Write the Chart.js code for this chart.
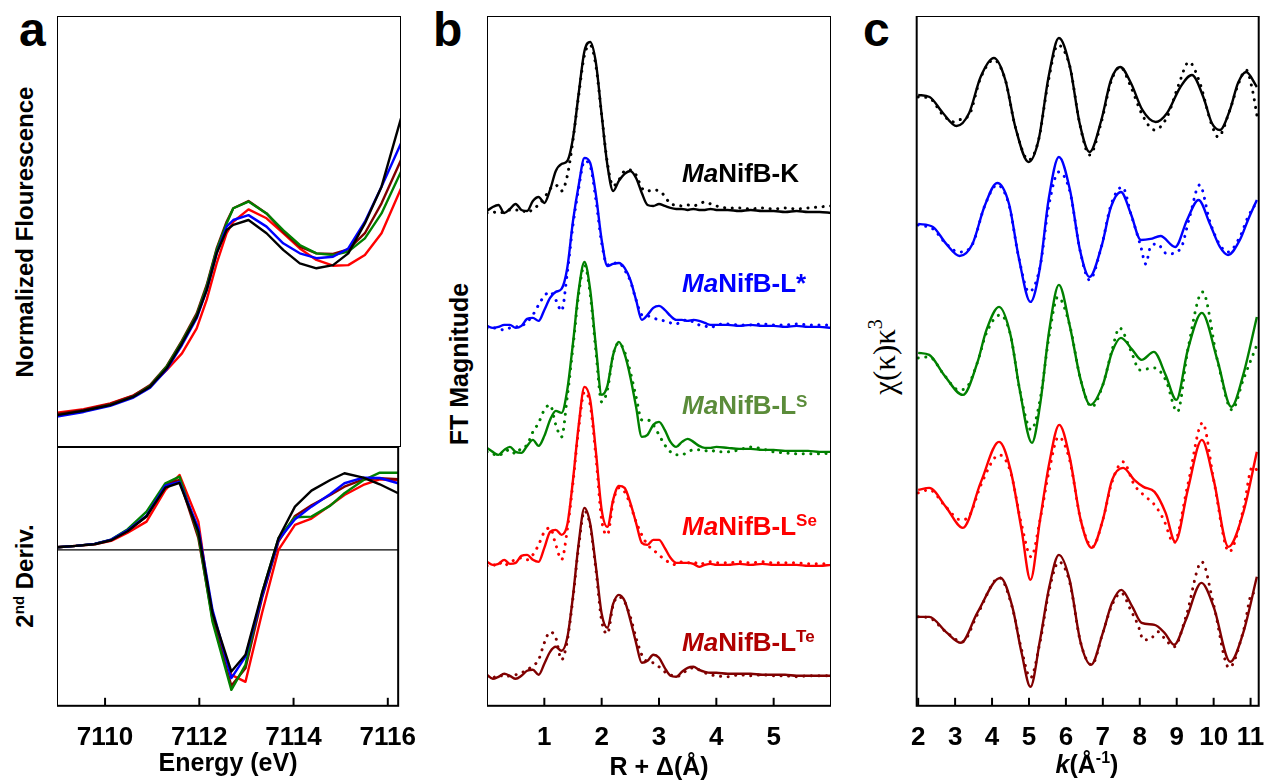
<!DOCTYPE html>
<html>
<head>
<meta charset="utf-8">
<script src="https://cdn.jsdelivr.net/npm/chart.js@4.4.1/dist/chart.umd.min.js"></script>
<style>
  body { margin: 0; width: 1270px; height: 781px; position: relative; overflow: hidden; background: #fff;
         font-family: 'Liberation Sans', Arial, sans-serif; font-weight: bold; color: #000; }
  .wrap { position: absolute; }
  .t { position: absolute; white-space: nowrap; line-height: 1; }
  .rot { transform: translate(-50%, -50%) rotate(-90deg); }
  .mid { transform: translateX(-50%); }
  .up { position: relative; }
</style>
</head>
<body>
<div class="wrap" id="wA1"><canvas id="cA1"></canvas></div>
<div class="wrap" id="wA2"><canvas id="cA2"></canvas></div>
<div class="wrap" id="wB"><canvas id="cB"></canvas></div>
<div class="wrap" id="wC"><canvas id="cC"></canvas></div>

<div class="t" style="left:19px;top:6px;font-size:48px">a</div>
<div class="t" style="left:433px;top:6px;font-size:48px">b</div>
<div class="t" style="left:863px;top:6px;font-size:48px">c</div>

<div class="t rot" style="left:25px;top:232px;font-size:24px">Normalized Flourescence</div>
<div class="t rot" style="left:25px;top:576px;font-size:24px">2<span class="up" style="font-size:15px;top:-9px">nd</span> Deriv.</div>
<div class="t mid" style="left:228px;top:750px;font-size:25px">Energy (eV)</div>

<div class="t rot" style="left:459px;top:364px;font-size:25px">FT Magnitude</div>
<div class="t mid" style="left:659px;top:754px;font-size:25px">R + Δ(Å)</div>

<div class="t rot" style="left:884px;top:357px;font-size:31px;font-family:'Liberation Serif',serif;font-weight:normal">χ(κ)κ<span class="up" style="font-size:20px;top:-13px">3</span></div>
<div class="t mid" style="left:1087px;top:752px;font-size:25px"><i>k</i>(Å<span class="up" style="font-size:16px;top:-10px">-1</span>)</div>

<div class="t" style="left:682px;top:160px;font-size:26px;color:#000"><i>Ma</i>NifB-K</div>
<div class="t" style="left:682px;top:270px;font-size:26px;color:#0000ff"><i>Ma</i>NifB-L*</div>
<div class="t" style="left:682px;top:392px;font-size:26px;color:#5b8c3a"><i>Ma</i>NifB-L<span class="up" style="font-size:17px;top:-7px">S</span></div>
<div class="t" style="left:682px;top:513px;font-size:26px;color:#ff0000"><i>Ma</i>NifB-L<span class="up" style="font-size:17px;top:-9px">Se</span></div>
<div class="t" style="left:682px;top:629px;font-size:26px;color:#b00000"><i>Ma</i>NifB-L<span class="up" style="font-size:17px;top:-9px">Te</span></div>

<script>
// ---------- panel a : XANES ----------
const energyTop = [7108.98, 7109.54, 7110.10, 7110.59, 7110.94, 7111.29, 7111.61, 7111.92, 7112.13, 7112.34, 7112.55,
                   7112.69, 7113.01, 7113.39, 7113.74, 7114.09, 7114.44, 7114.79, 7115.11, 7115.46, 7115.81, 7116.22];
const xanesK     = [0.111, 0.126, 0.146, 0.175, 0.210, 0.274, 0.361, 0.454, 0.546, 0.674, 0.755, 0.773, 0.790, 0.744, 0.686, 0.639, 0.622, 0.633, 0.674, 0.778, 0.906, 1.144];
const xanesLstar = [0.106, 0.122, 0.143, 0.172, 0.206, 0.270, 0.355, 0.448, 0.546, 0.674, 0.767, 0.790, 0.807, 0.767, 0.709, 0.674, 0.657, 0.662, 0.691, 0.784, 0.906, 1.057];
const xanesLS    = [0.109, 0.124, 0.146, 0.175, 0.212, 0.280, 0.367, 0.459, 0.558, 0.686, 0.778, 0.831, 0.854, 0.813, 0.755, 0.703, 0.674, 0.668, 0.680, 0.726, 0.813, 0.958];
const xanesLSe   = [0.119, 0.132, 0.152, 0.180, 0.212, 0.268, 0.326, 0.413, 0.512, 0.639, 0.744, 0.784, 0.827, 0.796, 0.744, 0.691, 0.651, 0.631, 0.633, 0.668, 0.744, 0.900];
const xanesLTe   = [0.115, 0.129, 0.150, 0.179, 0.216, 0.282, 0.370, 0.465, 0.564, 0.691, 0.784, 0.831, 0.856, 0.813, 0.749, 0.697, 0.674, 0.672, 0.688, 0.744, 0.848, 0.999];

const energyBottom = [7108.98, 7109.38, 7109.78, 7110.13, 7110.48, 7110.88, 7111.28, 7111.58, 7111.98, 7112.28, 7112.68,
                      7112.98, 7113.33, 7113.68, 7114.03, 7114.38, 7114.78, 7115.08, 7115.48, 7115.83, 7116.22];
const derivK     = [0.027, 0.040, 0.057, 0.097, 0.187, 0.337, 0.623, 0.670, 0.183, -0.633, -1.217, -1.050, -0.433, 0.117, 0.433, 0.593, 0.700, 0.767, 0.723, 0.657, 0.567];
const derivLstar = [0.027, 0.040, 0.060, 0.103, 0.197, 0.343, 0.643, 0.680, 0.217, -0.600, -1.283, -1.067, -0.467, 0.100, 0.307, 0.433, 0.560, 0.667, 0.723, 0.720, 0.667];
const derivLS    = [0.027, 0.040, 0.060, 0.103, 0.207, 0.383, 0.667, 0.733, 0.150, -0.717, -1.400, -1.150, -0.433, 0.117, 0.327, 0.333, 0.443, 0.567, 0.697, 0.773, 0.773];
const derivLSe   = [0.027, 0.040, 0.057, 0.090, 0.173, 0.283, 0.600, 0.750, 0.283, -0.700, -1.250, -1.320, -0.633, 0.000, 0.250, 0.313, 0.447, 0.550, 0.650, 0.707, 0.700];
const derivLTe   = [0.027, 0.040, 0.060, 0.100, 0.197, 0.333, 0.657, 0.700, 0.117, -0.683, -1.360, -1.183, -0.483, 0.083, 0.340, 0.447, 0.550, 0.633, 0.707, 0.717, 0.707];

// ---------- panel b : FT magnitude ----------
const rGrid = [0.0, 0.1, 0.2, 0.3, 0.4, 0.5, 0.6, 0.7, 0.8, 0.9, 1.0, 1.1, 1.2, 1.3, 1.4, 1.5, 1.6, 1.7, 1.8, 1.9,
               2.0, 2.1, 2.2, 2.3, 2.4, 2.5, 2.6, 2.7, 2.8, 2.9, 3.0, 3.1, 3.2, 3.3, 3.4, 3.5, 3.6, 3.7, 3.8, 3.9,
               4.0, 4.2, 4.4, 4.6, 4.8, 5.0, 5.2, 5.4, 5.6, 5.8, 6.0];
const ftK        = [0.02, 0.06, 0.08, 0.00, 0.04, 0.09, 0.03, 0.02, 0.12, 0.16, 0.10, 0.23, 0.42, 0.49, 0.52, 0.75, 1.20, 1.62, 1.71, 1.50,
                    0.98, 0.48, 0.22, 0.32, 0.39, 0.42, 0.35, 0.20, 0.08, 0.07, 0.09, 0.07, 0.05, 0.04, 0.04, 0.03, 0.04, 0.03, 0.03, 0.04,
                    0.03, 0.03, 0.02, 0.03, 0.02, 0.02, 0.01, 0.02, 0.01, 0.01, 0.00];
const ftKFit     = [0.00, 0.01, 0.00, 0.01, 0.03, 0.03, 0.03, 0.00, 0.04, 0.08, 0.15, 0.24, 0.28, 0.22, 0.37, 0.73, 1.18, 1.58, 1.68, 1.47,
                    0.98, 0.50, 0.27, 0.33, 0.42, 0.43, 0.38, 0.25, 0.22, 0.23, 0.22, 0.17, 0.09, 0.08, 0.07, 0.08, 0.07, 0.09, 0.11, 0.09,
                    0.07, 0.05, 0.05, 0.04, 0.05, 0.04, 0.05, 0.04, 0.05, 0.06, 0.07];
const ftLstar    = [0.02, 0.00, 0.01, 0.03, 0.03, 0.00, 0.02, 0.09, 0.10, 0.07, 0.18, 0.30, 0.36, 0.39, 0.60, 1.07, 1.43, 1.70, 1.65, 1.33,
                    0.88, 0.62, 0.64, 0.65, 0.60, 0.48, 0.28, 0.08, 0.13, 0.20, 0.22, 0.18, 0.12, 0.08, 0.08, 0.07, 0.08, 0.07, 0.05, 0.03,
                    0.03, 0.03, 0.02, 0.03, 0.02, 0.02, 0.01, 0.02, 0.01, 0.01, 0.00];
const ftLstarFit = [0.00, 0.00, -0.01, -0.02, 0.00, 0.01, 0.02, 0.06, 0.13, 0.23, 0.32, 0.36, 0.28, 0.17, 0.55, 1.03, 1.40, 1.67, 1.62, 1.28,
                    0.85, 0.63, 0.65, 0.65, 0.58, 0.47, 0.28, 0.13, 0.12, 0.10, 0.08, 0.07, 0.05, 0.04, 0.07, 0.08, 0.06, 0.03, 0.02, 0.00,
                    0.03, 0.04, 0.03, 0.03, 0.04, 0.03, 0.03, 0.04, 0.03, 0.03, 0.03];
const ftLS       = [0.04, 0.00, -0.03, 0.02, 0.05, 0.00, -0.01, 0.06, 0.12, 0.06, 0.16, 0.32, 0.41, 0.39, 0.62, 1.09, 1.62, 1.90, 1.62, 1.05,
                    0.57, 0.66, 0.97, 1.10, 0.98, 0.75, 0.45, 0.15, 0.17, 0.27, 0.30, 0.22, 0.10, 0.05, 0.10, 0.13, 0.10, 0.06, 0.04, 0.04,
                    0.05, 0.04, 0.03, 0.03, 0.02, 0.02, 0.01, 0.01, 0.01, 0.00, 0.00];
const ftLSFit    = [0.00, -0.02, -0.04, 0.00, 0.02, -0.02, 0.04, 0.07, 0.20, 0.29, 0.42, 0.47, 0.27, 0.15, 0.55, 1.05, 1.58, 1.87, 1.58, 1.00,
                    0.50, 0.62, 0.97, 1.09, 1.00, 0.80, 0.55, 0.32, 0.32, 0.27, 0.17, 0.07, 0.00, -0.03, -0.03, 0.00, 0.02, 0.02, 0.01, 0.02,
                    0.00, 0.00, 0.02, 0.05, 0.03, 0.00, -0.01, -0.02, -0.02, -0.02, -0.01];
const ftLSe      = [0.03, 0.00, 0.01, 0.05, 0.01, 0.02, 0.09, 0.10, 0.05, 0.03, 0.17, 0.33, 0.35, 0.30, 0.40, 0.85, 1.40, 1.78, 1.65, 1.13,
                    0.55, 0.38, 0.65, 0.79, 0.77, 0.62, 0.42, 0.22, 0.20, 0.25, 0.25, 0.17, 0.07, 0.02, 0.02, 0.02, 0.01, -0.02, 0.00, 0.01,
                    0.00, 0.00, 0.01, 0.00, 0.01, 0.00, 0.00, 0.00, -0.01, -0.01, 0.00];
const ftLSeFit   = [-0.01, -0.01, 0.03, -0.01, 0.03, 0.05, 0.07, 0.05, 0.10, 0.20, 0.33, 0.37, 0.20, 0.05, 0.35, 0.82, 1.37, 1.73, 1.60, 1.08,
                    0.45, 0.30, 0.63, 0.77, 0.73, 0.60, 0.43, 0.30, 0.20, 0.15, 0.10, 0.05, 0.02, 0.00, 0.03, 0.02, 0.03, 0.00, 0.02, 0.03,
                    0.02, 0.02, 0.03, 0.02, 0.03, 0.02, 0.02, 0.02, 0.01, 0.01, 0.01];
const ftLTe      = [0.01, -0.03, -0.01, 0.02, 0.00, -0.03, 0.00, 0.05, 0.06, 0.01, 0.12, 0.24, 0.29, 0.25, 0.38, 0.80, 1.33, 1.68, 1.52, 1.09,
                    0.62, 0.48, 0.72, 0.81, 0.75, 0.56, 0.33, 0.13, 0.15, 0.21, 0.18, 0.08, 0.00, -0.01, 0.04, 0.08, 0.09, 0.06, 0.04, 0.03,
                    0.03, 0.02, 0.02, 0.02, 0.01, 0.01, 0.01, 0.00, 0.00, 0.00, 0.00];
const ftLTeFit   = [-0.01, -0.02, 0.01, -0.01, 0.00, 0.01, 0.03, 0.06, 0.10, 0.16, 0.33, 0.44, 0.38, 0.16, 0.35, 0.78, 1.30, 1.65, 1.50, 1.06,
                    0.55, 0.42, 0.71, 0.79, 0.74, 0.59, 0.38, 0.21, 0.14, 0.13, 0.09, 0.04, 0.01, -0.01, 0.02, 0.06, 0.08, 0.06, 0.03, 0.01,
                    0.00, -0.01, 0.01, 0.00, 0.01, 0.00, 0.00, -0.01, 0.00, 0.00, 0.00];
const ftOffsets = [4.93, 3.78, 2.54, 1.41, 0.30];

// ---------- panel c : EXAFS chi(k)k^3 ----------
const kK        = [2.0, 2.31, 2.67, 3.04, 3.38, 3.69, 4.05, 4.36, 4.63, 4.99, 5.26, 5.53, 5.81, 6.11, 6.37, 6.64, 6.96, 7.22, 7.47, 7.76, 8.07, 8.43, 8.74, 9.10, 9.41, 9.72, 9.95, 10.17, 10.44, 10.66, 10.88, 11.17];
const chiK      = [0.05, 0.03, -0.13, -0.26, -0.13, 0.23, 0.42, 0.20, -0.27, -0.62, -0.40, 0.23, 0.62, 0.33, -0.23, -0.52, -0.20, 0.20, 0.33, 0.17, -0.10, -0.22, -0.13, 0.13, 0.25, 0.03, -0.23, -0.30, -0.10, 0.17, 0.28, 0.13];
const kKFit     = [2.0, 2.3, 2.67, 2.98, 3.1, 3.38, 3.69, 4.05, 4.36, 4.63, 4.99, 5.26, 5.53, 5.78, 6.11, 6.37, 6.64, 6.96, 7.22, 7.47, 7.76, 8.07, 8.40, 8.74, 9.05, 9.33, 9.6, 9.95, 10.12, 10.44, 10.66, 10.88, 11.05, 11.17];
const chiKFit   = [0.03, 0.02, -0.15, -0.22, -0.20, -0.15, 0.22, 0.40, 0.20, -0.27, -0.60, -0.40, 0.20, 0.55, 0.33, -0.23, -0.55, -0.22, 0.18, 0.33, 0.13, -0.15, -0.30, -0.17, 0.15, 0.38, 0.20, -0.25, -0.37, -0.10, 0.15, 0.30, 0.10, -0.15];
const kL        = [2.0, 2.4, 2.76, 3.12, 3.47, 3.79, 4.14, 4.46, 4.72, 5.04, 5.30, 5.53, 5.81, 6.11, 6.38, 6.64, 6.96, 7.22, 7.49, 7.76, 8.03, 8.29, 8.56, 8.96, 9.28, 9.59, 9.90, 10.17, 10.39, 10.71, 10.93, 11.17];
const chiL      = [0.03, 0.00, -0.17, -0.29, -0.17, 0.20, 0.44, 0.23, -0.30, -0.75, -0.40, 0.27, 0.70, 0.37, -0.23, -0.50, -0.20, 0.20, 0.35, 0.13, -0.13, -0.12, -0.09, -0.20, 0.07, 0.27, 0.03, -0.20, -0.28, -0.13, 0.07, 0.27];
const kLFit     = [2.0, 2.4, 2.76, 3.1, 3.3, 3.5, 3.79, 4.14, 4.46, 4.72, 5.0, 5.3, 5.53, 5.81, 6.11, 6.38, 6.64, 6.96, 7.22, 7.53, 7.76, 8.03, 8.16, 8.29, 8.47, 8.74, 9.1, 9.35, 9.62, 9.9, 10.17, 10.39, 10.71, 10.93, 11.17];
const chiLFit   = [0.02, -0.02, -0.17, -0.25, -0.24, -0.15, 0.20, 0.42, 0.22, -0.30, -0.65, -0.40, 0.20, 0.55, 0.35, -0.23, -0.53, -0.20, 0.22, 0.40, 0.13, -0.20, -0.37, -0.20, -0.17, -0.27, -0.22, 0.10, 0.42, 0.05, -0.18, -0.25, -0.10, 0.10, 0.25];
const kLS       = [2.0, 2.3, 2.7, 3.21, 3.6, 3.85, 4.19, 4.5, 4.75, 5.08, 5.3, 5.55, 5.81, 6.1, 6.4, 6.66, 7.0, 7.25, 7.49, 7.8, 8.05, 8.38, 8.7, 8.99, 9.3, 9.68, 10.1, 10.48, 10.8, 11.17];
const chiLS     = [0.02, 0.00, -0.20, -0.40, -0.08, 0.25, 0.48, 0.20, -0.35, -0.88, -0.50, 0.25, 0.70, 0.30, -0.25, -0.50, -0.30, 0.03, 0.17, 0.05, -0.05, 0.03, -0.20, -0.45, 0.05, 0.42, -0.05, -0.52, -0.20, 0.38];
const kLSFit    = [2.0, 2.3, 2.7, 3.1, 3.3, 3.6, 3.85, 4.22, 4.5, 4.75, 5.06, 5.3, 5.55, 5.78, 6.1, 6.4, 6.7, 7.0, 7.25, 7.45, 7.75, 8.0, 8.4, 8.7, 9.02, 9.3, 9.7, 10.1, 10.5, 10.8, 11.15];
const chiLSFit  = [-0.03, -0.02, -0.20, -0.35, -0.33, -0.08, 0.22, 0.40, 0.20, -0.35, -0.75, -0.45, 0.20, 0.58, 0.30, -0.25, -0.52, -0.30, 0.05, 0.27, 0.05, -0.15, -0.13, -0.25, -0.57, 0.05, 0.63, -0.05, -0.55, -0.25, 0.08];
const kLSe      = [2.0, 2.3, 2.75, 3.21, 3.7, 4.19, 4.5, 4.8, 5.04, 5.3, 5.55, 5.82, 6.1, 6.4, 6.7, 7.0, 7.25, 7.55, 7.85, 8.1, 8.4, 8.7, 8.96, 9.3, 9.68, 10.0, 10.4, 10.8, 11.17];
const chiLSe    = [0.00, 0.02, -0.17, -0.38, 0.08, 0.48, 0.20, -0.40, -0.90, -0.30, 0.27, 0.65, 0.33, -0.30, -0.58, -0.30, 0.10, 0.22, 0.10, 0.03, -0.02, -0.23, -0.52, 0.00, 0.50, 0.10, -0.57, -0.23, 0.38];
const kLSeFit   = [2.0, 2.3, 2.75, 3.15, 3.4, 3.7, 4.2, 4.5, 4.8, 5.06, 5.3, 5.55, 5.8, 6.1, 6.4, 6.72, 7.0, 7.25, 7.55, 7.85, 8.1, 8.4, 8.65, 8.92, 9.3, 9.7, 10.0, 10.42, 10.8, 11.05, 11.17];
const chiLSeFit = [-0.03, 0.00, -0.17, -0.30, -0.25, 0.05, 0.35, 0.18, -0.35, -0.67, -0.30, 0.20, 0.53, 0.30, -0.30, -0.57, -0.30, 0.08, 0.28, 0.05, -0.05, -0.15, -0.30, -0.53, 0.05, 0.67, 0.10, -0.62, -0.20, 0.23, 0.20];
const kLTe      = [2.0, 2.3, 2.75, 3.16, 3.6, 4.23, 4.55, 4.8, 5.04, 5.3, 5.55, 5.81, 6.1, 6.4, 6.68, 7.0, 7.25, 7.5, 7.8, 8.05, 8.4, 8.67, 8.93, 9.25, 9.67, 10.0, 10.45, 10.8, 11.17];
const chiLTe    = [0.03, 0.03, -0.12, -0.23, 0.07, 0.42, 0.13, -0.33, -0.67, -0.20, 0.33, 0.65, 0.40, -0.23, -0.45, -0.13, 0.17, 0.30, 0.13, -0.03, -0.05, -0.13, -0.25, 0.00, 0.37, 0.13, -0.42, -0.13, 0.43];
const kLTeFit   = [2.0, 2.3, 2.75, 3.2, 3.6, 4.2, 4.55, 4.8, 5.04, 5.3, 5.55, 5.81, 6.1, 6.4, 6.7, 7.0, 7.25, 7.5, 7.75, 7.95, 8.1, 8.25, 8.5, 8.7, 8.93, 9.25, 9.68, 10.0, 10.42, 10.8, 11.05, 11.17];
const chiLTeFit = [0.03, 0.02, -0.12, -0.22, 0.05, 0.42, 0.12, -0.30, -0.58, -0.22, 0.30, 0.58, 0.38, -0.23, -0.45, -0.13, 0.15, 0.27, 0.10, -0.05, -0.20, -0.20, -0.12, -0.20, -0.27, 0.03, 0.58, 0.15, -0.48, -0.12, 0.27, 0.23];
const chiOffsets = [6.06, 4.79, 3.51, 2.16, 0.86];

// tick labels
const aTicks = [7110, 7112, 7114, 7116];
const bTicks = [1, 2, 3, 4, 5];
const cTicks = [2, 3, 4, 5, 6, 7, 8, 9, 10, 11];

// K, L*, L^S, L^Se, L^Te
const colors = ['#000000', '#0000ff', '#008000', '#ff0000', '#800000'];

// box, inner tick marks and the zero line of the 2nd derivative
const framePlugin = {
    id: 'frame',
    beforeDatasetsDraw(chart, args, opts) {
        if (!opts.zero) return;
        const { ctx, chartArea: a, scales } = chart;
        const y = scales.y.getPixelForValue(0);
        ctx.save();
        ctx.strokeStyle = '#000'; ctx.lineWidth = 1.3;
        ctx.beginPath(); ctx.moveTo(a.left, y); ctx.lineTo(a.right, y); ctx.stroke();
        ctx.restore();
    },
    afterDatasetsDraw(chart, args, opts) {
        const { ctx, chartArea: a, scales } = chart;
        ctx.save();
        ctx.strokeStyle = '#000'; ctx.lineWidth = 2;
        if (opts.ticks) {
            scales.x.ticks.forEach(t => {
                const x = scales.x.getPixelForValue(t.value);
                ctx.beginPath(); ctx.moveTo(x, a.bottom); ctx.lineTo(x, a.bottom - 8); ctx.stroke();
            });
        }
        ctx.strokeRect(a.left, a.top, a.right - a.left, a.bottom - a.top);
        ctx.restore();
    }
};

function lineSet(xs, ys, color, opts) {
    const off = opts.offset || 0;
    return {
        data: xs.map((x, i) => ({ x: x, y: ys[i] + off })),
        borderColor: color,
        borderWidth: opts.dotted ? 3 : 2.4,
        borderDash: opts.dotted ? [0.1, 7.5] : [],
        borderCapStyle: opts.dotted ? 'round' : 'butt',
        borderJoinStyle: 'round',
        pointRadius: 0,
        tension: 0,
        cubicInterpolationMode: opts.smooth ? 'monotone' : 'default',
        fill: false
    };
}

function makeConfig(sets, xMin, xMax, yMin, yMax, ticks, frame) {
    return {
        type: 'line',
        data: { datasets: sets() },
        options: {
            responsive: false, maintainAspectRatio: false, animation: false, devicePixelRatio: 1,
            events: [],
            layout: { padding: 0 },
            plugins: { legend: { display: false }, tooltip: { enabled: false }, frame: frame },
            scales: {
                x: {
                    type: 'linear', min: xMin, max: xMax, display: !!ticks,
                    grid: { display: false }, border: { display: false },
                    afterBuildTicks: s => { if (ticks) s.ticks = ticks.map(v => ({ value: v })); },
                    ticks: {
                        autoSkip: false, maxRotation: 0, padding: 8, color: '#000',
                        font: { family: 'Liberation Sans', size: 26, weight: 'bold' },
                        callback: v => String(v)
                    }
                },
                y: { type: 'linear', min: yMin, max: yMax, display: false }
            }
        },
        plugins: [framePlugin]
    };
}

// build the chart, then size and move the canvas so the plot area sits on the box
function build(id, box, cfg) {
    const canvas = document.getElementById(id);
    canvas.width = box.w + 120; canvas.height = box.h + 120;
    let chart = new Chart(canvas, cfg());
    let a = chart.chartArea;
    const w = Math.round(canvas.width + box.w - (a.right - a.left));
    const h = Math.round(canvas.height + box.h - (a.bottom - a.top));
    chart.destroy();
    canvas.width = w; canvas.height = h;
    chart = new Chart(canvas, cfg());
    a = chart.chartArea;
    canvas.parentNode.style.left = (box.x - a.left) + 'px';
    canvas.parentNode.style.top = (box.y - a.top) + 'px';
    return chart;
}

const drawOrder = [0, 1, 2, 4, 3];
const xanes = [xanesK, xanesLstar, xanesLS, xanesLSe, xanesLTe];
const deriv = [derivK, derivLstar, derivLS, derivLSe, derivLTe];
const ftData = [ftK, ftLstar, ftLS, ftLSe, ftLTe];
const ftFit = [ftKFit, ftLstarFit, ftLSFit, ftLSeFit, ftLTeFit];
const kData = [kK, kL, kLS, kLSe, kLTe];
const chiData = [chiK, chiL, chiLS, chiLSe, chiLTe];
const kFit = [kKFit, kLFit, kLSFit, kLSeFit, kLTeFit];
const chiFit = [chiKFit, chiLFit, chiLSFit, chiLSeFit, chiLTeFit];

build('cA1', { x: 57, y: 16, w: 344, h: 431 }, () => makeConfig(
    () => drawOrder.map(i => lineSet(energyTop, xanes[i], colors[i], {})),
    7108.98, 7116.22, 0, 1.5, null, { ticks: false }));

build('cA2', { x: 57, y: 447, w: 344, h: 259 }, () => makeConfig(
    () => drawOrder.map(i => lineSet(energyBottom, deriv[i], colors[i], {})),
    7108.98, 7116.22, -1.56, 1.03, aTicks, { ticks: true, zero: true }));

build('cB', { x: 487, y: 16, w: 344, h: 690 }, () => makeConfig(
    () => {
        const sets = [];
        ftData.forEach((d, i) => {
            sets.push(lineSet(rGrid, d, colors[i], { smooth: true, offset: ftOffsets[i] }));
            sets.push(lineSet(rGrid, ftFit[i], colors[i], { smooth: true, dotted: true, offset: ftOffsets[i] }));
        });
        return sets;
    },
    0, 6, 0, 6.9, bTicks, { ticks: true }));

build('cC', { x: 917, y: 16, w: 345, h: 690 }, () => makeConfig(
    () => {
        const sets = [];
        chiData.forEach((d, i) => {
            sets.push(lineSet(kData[i], d, colors[i], { smooth: true, offset: chiOffsets[i] }));
            sets.push(lineSet(kFit[i], chiFit[i], colors[i], { smooth: true, dotted: true, offset: chiOffsets[i] }));
        });
        return sets;
    },
    1.96, 11.22, 0, 6.9, cTicks, { ticks: true }));
</script>
</body>
</html>
